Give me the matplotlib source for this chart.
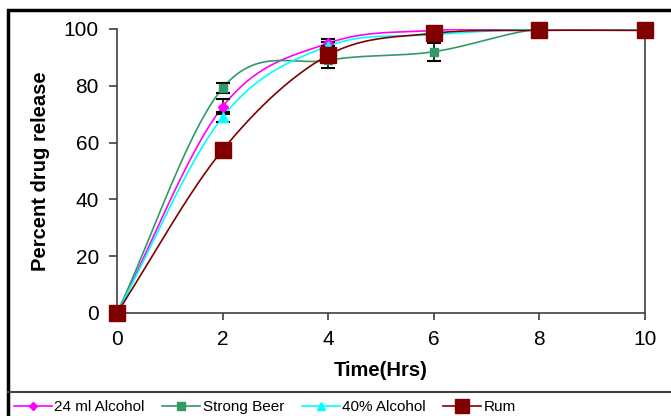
import numpy as np
from matplotlib import pyplot as plt
from matplotlib.lines import Line2D
from matplotlib.patches import Rectangle

plt.rcParams['font.family'] = ['Liberation Sans', 'DejaVu Sans']

tempo = [0, 2, 4, 6, 8, 10]

alcol_24ml = [0, 72.6, 95.0, 99.5, 100, 100]
err_alcol_24ml = [0, 2.6, 1.5, 0.8, 0, 0]

birra_forte = [0, 79.2, 89.0, 92.0, 100, 100]
err_birra_forte = [0, 1.8, 0, 3.2, 0, 0]

alcol_40 = [0, 69.0, 94.0, 98.0, 100, 100]
err_alcol_40 = [0, 1.8, 0, 0, 0, 0]

rum = [0, 57.4, 90.8, 98.5, 99.5, 99.5]
err_rum = [0, 0, 4.7, 1.2, 0, 0]

serie = [
    ("24 ml Alcohol", alcol_24ml, err_alcol_24ml, "#ff00ff", "D", 5),
    ("Strong Beer", birra_forte, err_birra_forte, "#339966", "s", 6),
    ("40% Alcohol", alcol_40, err_alcol_40, "#00ffff", "^", 7),
    ("Rum", rum, err_rum, "#800000", "s", 11),
]


def curva_liscia(x, y, n=30):
    # Catmull-Rom, come le linee "smussate" di Excel
    x = np.asarray(x, float)
    y = np.asarray(y, float)
    px = np.concatenate([[2 * x[0] - x[1]], x, [2 * x[-1] - x[-2]]])
    py = np.concatenate([[2 * y[0] - y[1]], y, [2 * y[-1] - y[-2]]])
    xs, ys = [], []
    for i in range(1, len(px) - 2):
        t = np.linspace(0, 1, n)
        for p, out in ((px, xs), (py, ys)):
            p0, p1, p2, p3 = p[i - 1], p[i], p[i + 1], p[i + 2]
            out.extend(0.5 * (2 * p1 + (-p0 + p2) * t
                              + (2 * p0 - 5 * p1 + 4 * p2 - p3) * t ** 2
                              + (-p0 + 3 * p1 - 3 * p2 + p3) * t ** 3))
    return np.array(xs), np.array(ys)


fig = plt.figure(figsize=(6.71, 4.16), dpi=100)
ax = fig.add_axes([117 / 671, 103 / 416, 528 / 671, 284 / 416])

handles = []
for nome, valori, errori, colore, marker, ms in serie:
    xs, ys = curva_liscia(tempo, valori)
    ax.plot(xs, ys, color=colore, lw=1.2, zorder=2)
    ax.errorbar(tempo, valori, yerr=errori, fmt="none", ecolor="black",
                elinewidth=1.2, capsize=5, capthick=1.5, zorder=3)
    ax.plot(tempo, valori, ls="none", marker=marker, ms=ms, color=colore,
            mec=colore, zorder=4, clip_on=False)
    handles.append(Line2D([], [], color=colore, lw=1.2, marker=marker,
                          ms=ms * 0.9, mec=colore))

ax.set_xlim(0, 10)
ax.set_ylim(0, 100)
ax.set_xticks(range(0, 11, 2))
ax.set_yticks(range(0, 101, 20))
ax.spines["top"].set_visible(False)
for lato in ("left", "bottom", "right"):
    ax.spines[lato].set_color("#404040")
    ax.spines[lato].set_linewidth(1.2)
ax.tick_params(axis="both", colors="#404040", labelcolor="black",
               labelsize=15, width=1.2)
ax.tick_params(axis="y", length=6, pad=7)
ax.tick_params(axis="x", length=5, pad=7)
ax.set_xlabel("Time(Hrs)", fontsize=14.5, fontweight="bold", labelpad=9)
ax.set_ylabel("Percent drug release", fontsize=14.5, fontweight="bold",
              labelpad=10)

# cornice esterna e separatore della legenda
fig.patches.append(Rectangle((8 / 671, -0.1), 1.2, 1.1 - 10 / 416,
                             transform=fig.transFigure, fill=False,
                             ec="black", lw=2.5))
fig.add_artist(Line2D([8 / 671, 1], [24 / 416, 24 / 416],
                      transform=fig.transFigure, color="#404040", lw=1.5))

fig.legend(handles, [s[0] for s in serie], loc="lower left",
           bbox_to_anchor=(0 / 671, -0.028), ncol=4, frameon=False,
           fontsize=11, handlelength=2.5, columnspacing=1.15,
           handletextpad=0.15)

fig.savefig("out.png", dpi=100)
